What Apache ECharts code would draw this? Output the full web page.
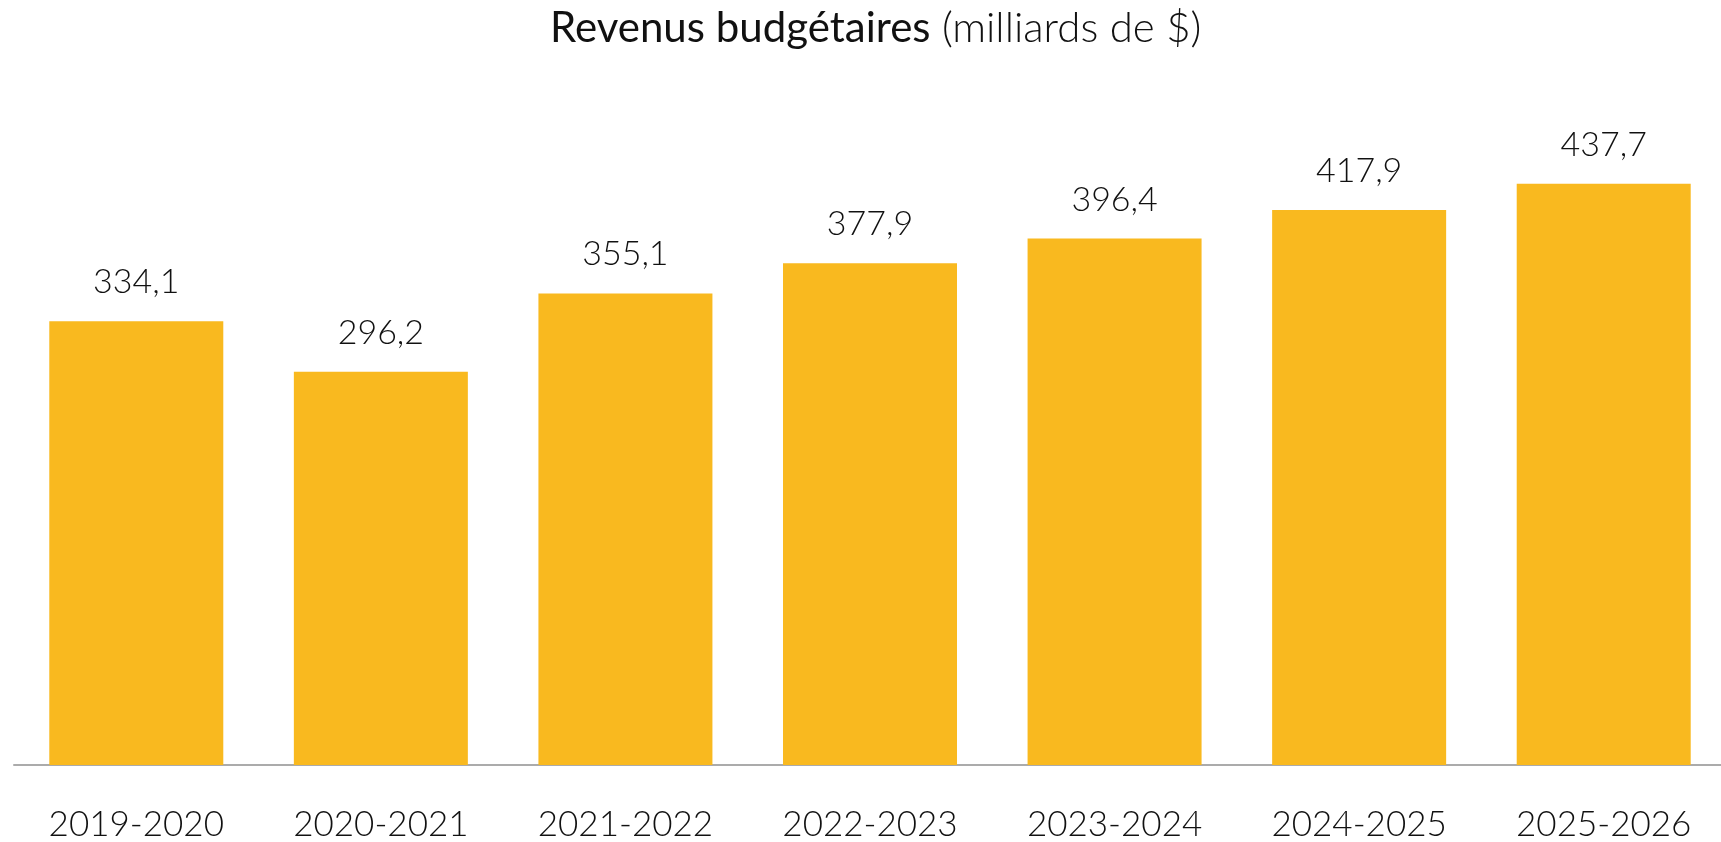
<!DOCTYPE html>
<html lang="fr">
<head>
<meta charset="utf-8">
<title>Revenus budgétaires</title>
<script src="https://cdn.jsdelivr.net/npm/echarts@6/dist/echarts.min.js"></script>
<style>
  html, body { margin: 0; padding: 0; background: #fff; }
  #chart { width: 1721px; height: 842px; }
</style>
</head>
<body>
<div id="chart"></div>
<script>
// données du graphique
const categories = ['2019-2020', '2020-2021', '2021-2022', '2022-2023', '2023-2024', '2024-2025', '2025-2026']
const revenus = [334.1, 296.2, 355.1, 377.9, 396.4, 417.9, 437.7]

const barColor = '#F9B91F'
const fontFamily = 'Lato, "Open Sans", sans-serif'

const chart = echarts.init(document.getElementById('chart'))

const option = {
  animation: false,
  textStyle: { fontFamily },
  title: {
    text: '{a|Revenus budgétaires}{b| (milliards de $)}',
    left: 545,
    top: 2,
    textStyle: {
      rich: {
        a: { fontSize: 42, fontWeight: 'normal', color: '#111', fontFamily },
        b: { fontSize: 42, fontWeight: 300, color: '#111', fontFamily }
      }
    }
  },
  // la dernière catégorie dépasse un peu le bord droit
  grid: {
    left: 14,
    width: 1712,
    top: 101,
    bottom: 77,
    containLabel: false,
    outerBoundsMode: 'none'
  },
  xAxis: {
    type: 'category',
    data: categories,
    axisLine: {
      show: true,
      lineStyle: { color: '#ababab', width: 2 }
    },
    axisTick: { show: false },
    axisLabel: {
      color: '#111',
      fontSize: 35,
      fontWeight: 300,
      margin: 42
    }
  },
  yAxis: {
    type: 'value',
    min: 0,
    max: 500,
    show: false,
    splitLine: { show: false }
  },
  series: [
    {
      type: 'bar',
      data: revenus,
      barWidth: 174,
      itemStyle: { color: barColor },
      label: {
        show: true,
        position: 'top',
        distance: 22,
        color: '#111',
        fontSize: 34,
        fontWeight: 300,
        formatter: p => p.value.toFixed(1).replace('.', ',')
      }
    }
  ]
}

chart.setOption(option)
</script>
</body>
</html>
